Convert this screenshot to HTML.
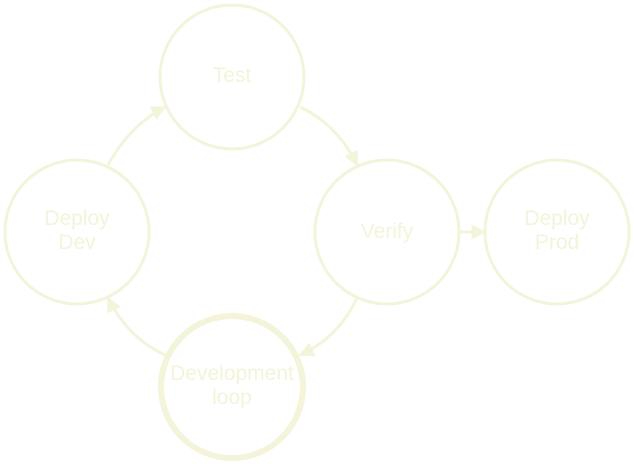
<!DOCTYPE html>
<html><head><style>
html,body{margin:0;padding:0;background:#fff;}
svg{display:block;}
text{font-family:"Liberation Sans",sans-serif;font-size:21px;fill:#f3f4d9;text-anchor:middle;}
</style></head><body>
<svg width="634" height="464" viewBox="0 0 634 464" xmlns="http://www.w3.org/2000/svg">
<defs>
<marker id="a" viewBox="0 0 10 10" refX="9" refY="5" markerWidth="5" markerHeight="5" orient="auto" markerUnits="strokeWidth">
<path d="M0,0 L10,5 L0,10 z" fill="#f3f4d9"/>
</marker>
</defs>
<g fill="none" stroke="#f3f4d9" stroke-width="3">
<circle cx="232" cy="77" r="72"/>
<circle cx="77" cy="232" r="72"/>
<circle cx="387" cy="232" r="72"/>
<circle cx="557" cy="232" r="72"/>
<circle cx="232" cy="387" r="71" stroke-width="6"/>
<path d="M108,165 Q130,125 165,107" marker-end="url(#a)"/>
<path d="M300,107 Q338,125 357,165" marker-end="url(#a)"/>
<path d="M459,232 L485,232" marker-end="url(#a)"/>
<path d="M357,298 Q338,338 300,355" marker-end="url(#a)"/>
<path d="M165,355 Q128,338 108,298" marker-end="url(#a)"/>
</g>
<text x="232" y="82">Test</text>
<text x="77" y="225">Deploy</text>
<text x="77" y="249">Dev</text>
<text x="387" y="238">Verify</text>
<text x="557" y="225">Deploy</text>
<text x="557" y="249">Prod</text>
<text x="232" y="380">Development</text>
<text x="232" y="404">loop</text>
</svg>
</body></html>
